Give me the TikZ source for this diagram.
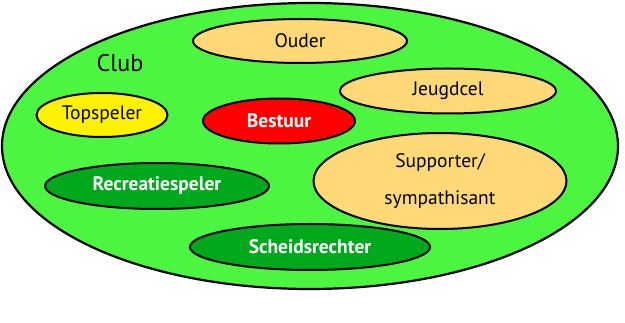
\documentclass[tikz,border=0pt]{standalone}
\usepackage{fontspec}
\setmainfont{PT Sans}
\usetikzlibrary{shapes.geometric}

\definecolor{clubgreen}{RGB}{76,245,64}
\definecolor{darkgreen}{RGB}{0,168,28}
\definecolor{lightorange}{RGB}{255,217,119}

\begin{document}
\begin{tikzpicture}[x=1pt, y=-1pt,
	group/.style={ellipse, draw=black, line width=2pt, inner sep=0pt, font=\fontsize{19.5}{22}\selectfont},
	member/.style={group, fill=lightorange},
	boldgroup/.style={group, text=white, font=\fontsize{19.5}{22}\selectfont\bfseries},
	]
	\useasboundingbox (0,0) rectangle (625,323);
	
	\node[group, fill=clubgreen, line width=2.2pt, minimum width=616, minimum height=286] (club) at (310,146) {};
	\node[font=\fontsize{24}{28}\selectfont] (clublabel) at (120,63) {Club};
	
	\node[member, minimum width=214, minimum height=44] (ouder) at (300,41) {Ouder};
	\node[member, minimum width=216, minimum height=45] (jeugdcel) at (448,91) {Jeugdcel};
	\node[member, minimum width=253, minimum height=96, align=center] (supporter) at (440,181)
		{Supporter/\\[15pt]sympathisant};
	\node[group, fill=yellow, minimum width=131, minimum height=44] (topspeler) at (102,115) {Topspeler};
	\node[boldgroup, fill=red, minimum width=152, minimum height=45] (bestuur) at (279,121) {Bestuur};
	\node[boldgroup, fill=darkgreen, minimum width=224, minimum height=46] (recreatie) at (157,186) {Recreatiespeler};
	\node[boldgroup, fill=darkgreen, minimum width=240, minimum height=46] (scheids) at (310,247) {Scheidsrechter};
\end{tikzpicture}
\end{document}
